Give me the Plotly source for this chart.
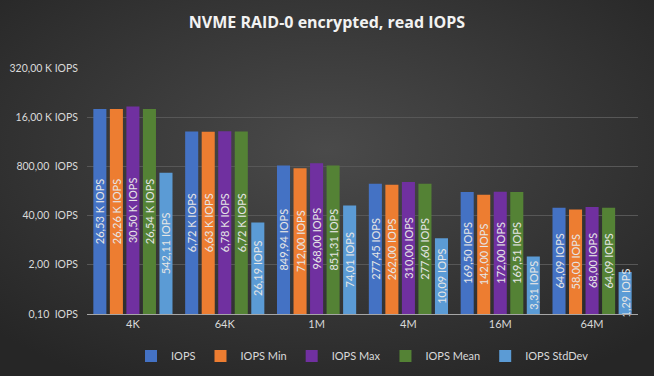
import plotly.graph_objects as go
import math, base64

categories = ["4K", "64K", "1M", "4M", "16M", "64M"]
iops = [26530, 6720, 849.94, 277.45, 169.50, 64.09]
iops_min = [26260, 6630, 712.00, 262.00, 142.00, 58.00]
iops_max = [30500, 6780, 968.00, 310.00, 172.00, 68.00]
iops_mean = [26540, 6720, 851.31, 277.60, 169.51, 64.09]
iops_std = [542.11, 26.19, 74.01, 10.09, 3.31, 1.29]

tick_vals = [0.1, 2, 40, 800, 16000, 320000]
tick_text = ["0,10  IOPS", "2,00  IOPS", "40,00  IOPS", "800,00  IOPS", "16,00 K IOPS", "320,00 K IOPS"]

def fmt(v):
    if v >= 1000:
        return f"{v/1000:.2f}".replace(".", ",") + " K IOPS"
    return f"{v:.2f}".replace(".", ",") + " IOPS"

series = [
    ("IOPS", iops, "#4472C4"),
    ("IOPS Min", iops_min, "#ED7D31"),
    ("IOPS Max", iops_max, "#7030A0"),
    ("IOPS Mean", iops_mean, "#548235"),
    ("IOPS StdDev", iops_std, "#5B9BD5"),
]

L, R, T, B = 87, 16, 68, 62
W, H = 654, 376
pw, ph = W - L - R, H - T - B

fig = go.Figure()
for name, vals, col in series:
    fig.add_trace(go.Bar(
        x=categories, y=vals, name=name, marker=dict(color=col, line=dict(width=0)),
        text=[fmt(v) for v in vals], textposition="inside", insidetextanchor="middle",
        textangle=-90, constraintext="none", cliponaxis=False,
        textfont=dict(color="#e6e6e6", size=11, family="Lato"),
    ))

svg = ('<svg xmlns="http://www.w3.org/2000/svg" width="654" height="376">'
       '<defs><radialGradient id="g" cx="50%" cy="40%" r="70%">'
       '<stop offset="0%" stop-color="#4a4a4a"/><stop offset="100%" stop-color="#262626"/>'
       '</radialGradient></defs><rect width="654" height="376" fill="url(#g)"/></svg>')
uri = "data:image/svg+xml;base64," + base64.b64encode(svg.encode()).decode()

fig.update_layout(
    width=W, height=H,
    margin=dict(l=L, r=R, t=T, b=B, autoexpand=False),
    paper_bgcolor="#363636", plot_bgcolor="rgba(0,0,0,0)",
    images=[dict(source=uri, xref="paper", yref="paper", x=-L/pw, y=1+T/ph,
                 sizex=W/pw, sizey=H/ph, sizing="stretch", layer="below",
                 xanchor="left", yanchor="top")],
    title=dict(text="<b>NVME RAID-0 encrypted, read IOPS</b>", x=0.5, xanchor="center",
               y=1-22/H, yanchor="middle", font=dict(color="#f2f2f2", size=16, family="Open Sans")),
    barmode="group", bargap=0.10, bargroupgap=0.21,
    font=dict(family="Lato", color="#d9d9d9", size=11),
    legend=dict(orientation="h", x=0.5, xanchor="center", y=-(356-T-ph)/ph, yanchor="middle",
                font=dict(color="#d9d9d9", size=11, family="Lato"), itemwidth=30, tracegroupgap=0,
                bgcolor="rgba(0,0,0,0)"),
    yaxis=dict(type="log", range=[-1, math.log10(320000)], tickvals=tick_vals, ticktext=tick_text,
               gridcolor="#575757", gridwidth=1, zeroline=False, showline=False, automargin=False,
               tickfont=dict(color="#d9d9d9", size=10.5, family="Lato"), ticks="", ticklen=0,
               ticklabelstandoff=8),
    xaxis=dict(showline=True, linecolor="#a6a6a6", linewidth=1, automargin=False,
               tickfont=dict(color="#d9d9d9", size=11, family="Lato"), showgrid=False),
)

fig.write_html("out.html", config={"displayModeBar": False},
               post_script="document.body.style.margin='0';document.body.style.background='#262626';")
